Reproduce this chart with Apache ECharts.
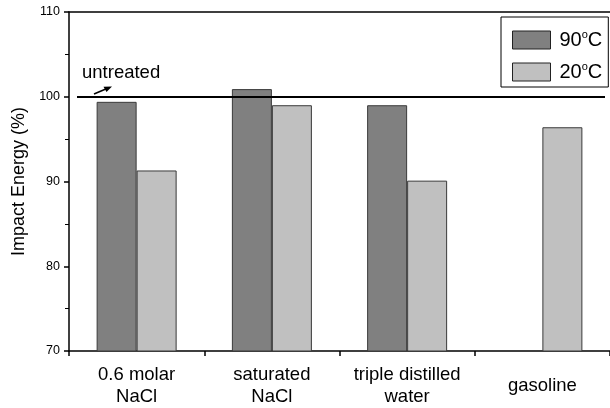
<!DOCTYPE html>
<html>
<head>
<meta charset="utf-8">
<script src="https://cdn.jsdelivr.net/npm/echarts@6/dist/echarts.min.js"></script>
<style>
  html, body { margin: 0; padding: 0; background: #fff; }
  #chart { width: 610px; height: 408px; }
</style>
</head>
<body>
<div id="chart"></div>
<script>
  // data
  var categories = ['0.6 molar\nNaCl', 'saturated\nNaCl', 'triple distilled\nwater', 'gasoline'];
  var hot = [99.4, 100.9, 99.0, null];     // 90°C
  var cold = [91.3, 99.0, 90.1, 96.4];     // 20°C
  var untreated = 100;
  var yTicks = { min: 70, max: 110, interval: 10 };

  var font = 'Liberation Sans, Arial, sans-serif';
  var myChart = echarts.init(document.getElementById('chart'));

  var option = {
    animation: false,
    textStyle: { fontFamily: font },
    grid: { left: 69, top: 12, width: 544, height: 341 },
    legend: {
      orient: 'vertical',
      left: 501,
      top: 17,
      padding: [12, 6, 5, 11],
      icon: 'rect',
      itemWidth: 38,
      itemHeight: 18,
      itemGap: 11,
      borderColor: '#000',
      borderWidth: 1,
      data: ['90', '20'],
      formatter: function (name) { return name + '{sup|o}C'; },
      itemStyle: { borderColor: '#222', borderWidth: 1 },
      textStyle: {
        fontSize: 20,
        color: '#000',
        padding: [0, 0, 0, 4],
        rich: { sup: { fontSize: 11, verticalAlign: 'top', padding: [0, 0, 11, 0] } }
      }
    },
    xAxis: [
      {
        type: 'category',
        data: categories,
        axisLine: { lineStyle: { color: '#000', width: 1.5 } },
        axisTick: { show: true, interval: 0, length: 5, inside: false, lineStyle: { color: '#000', width: 1.5 } },
        axisLabel: {
          color: '#000', interval: 0, fontSize: 18.5, lineHeight: 22,
          verticalAlign: 'middle', margin: 35
        }
      },
      {
        type: 'category',
        position: 'top',
        data: categories,
        axisLine: { lineStyle: { color: '#000', width: 1.5 } },
        axisTick: { show: false },
        axisLabel: { show: false }
      }
    ],
    yAxis: {
      type: 'value',
      min: yTicks.min,
      max: yTicks.max,
      interval: yTicks.interval,
      name: 'Impact Energy (%)',
      nameLocation: 'middle',
      nameGap: 40,
      nameTextStyle: { fontSize: 18, color: '#000' },
      axisLine: { show: true, lineStyle: { color: '#000', width: 1.5 } },
      axisTick: { show: true, length: 5, lineStyle: { color: '#000', width: 1.5 } },
      minorTick: { show: true, splitNumber: 2, length: 4, lineStyle: { color: '#000', width: 1 } },
      splitLine: { show: false },
      axisLabel: { color: '#000', fontSize: 12.5, margin: 9 }
    },
    series: [
      {
        name: '90',
        type: 'bar',
        data: hot,
        barWidth: 40,
        barGap: '0%',
        itemStyle: { color: '#808080', borderColor: '#3a3a3a', borderWidth: 1 },
        markLine: {
          silent: true,
          symbol: 'none',
          label: { show: false },
          lineStyle: { color: '#000', width: 2, type: 'solid' },
          data: [[{ x: 77, yAxis: untreated }, { x: 605, yAxis: untreated }]]
        }
      },
      {
        name: '20',
        type: 'bar',
        data: cold,
        barWidth: 40,
        barGap: '0%',
        itemStyle: { color: '#c0c0c0', borderColor: '#3a3a3a', borderWidth: 1 }
      }
    ],
    graphic: [
      {
        type: 'text',
        left: 82,
        top: 63,
        style: { text: 'untreated', font: '18.5px ' + font, fill: '#000' }
      },
      {
        type: 'line',
        shape: { x1: 94, y1: 94, x2: 107, y2: 88.5 },
        style: { stroke: '#000', lineWidth: 1.5 }
      },
      {
        type: 'polygon',
        shape: { points: [[112, 86.5], [103.5, 86.8], [106.5, 92]] },
        style: { fill: '#000' }
      }
    ]
  };

  myChart.setOption(option);
</script>
</body>
</html>
